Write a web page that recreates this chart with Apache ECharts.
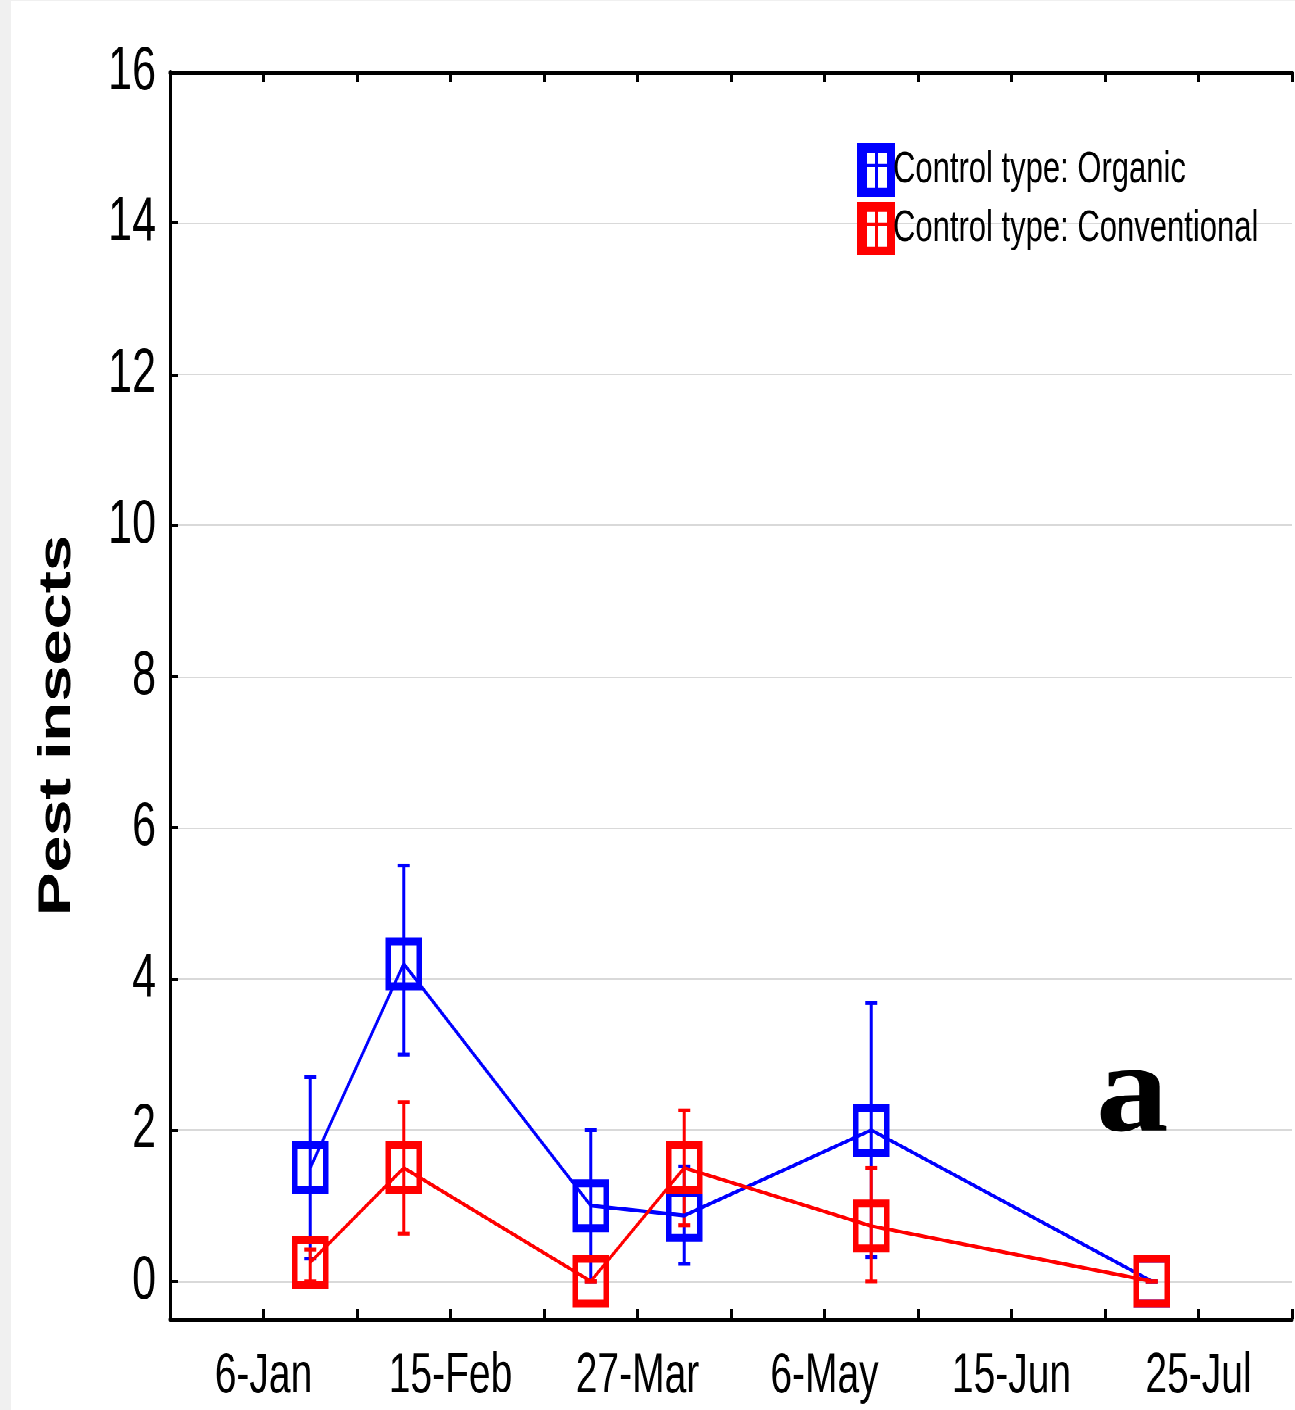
<!DOCTYPE html>
<html>
<head>
<meta charset="utf-8">
<script src="https://cdn.jsdelivr.net/npm/echarts@6/dist/echarts.min.js"></script>
<style>
  html, body { margin: 0; padding: 0; background: #f0f0f0; overflow: hidden; }
  /* the source figure is stretched vertically, so the chart is drawn
     at 1/1.45 height and scaled back up */
  #pest_chart {
    position: absolute;
    left: 11px;
    top: 1px;
    width: 1284px;
    height: 972px;
    background: #ffffff;
    transform: scaleY(1.45);
    transform-origin: 0 0;
  }
</style>
</head>
<body>
<div id="pest_chart"></div>
<script>
// sampling dates (non-leap year)
var sampleDates = ['2001-01-16', '2001-02-05', '2001-03-17', '2001-04-06', '2001-05-16', '2001-07-15'];
// x tick labels, every 40 days from 6-Jan
var tickLabels = ['6-Jan', '15-Feb', '27-Mar', '6-May', '15-Jun', '25-Jul'];
var yTicks = [0, 2, 4, 6, 8, 10, 12, 14, 16];

var organicMean = [1.5, 4.2, 1.0, 0.87, 2.0, 0];
var organicLow  = [0.3, 3.0, 0, 0.23, 0.32, 0];
var organicHigh = [2.7, 5.5, 2.0, 1.52, 3.68, 0];

var conventionalMean = [0.25, 1.5, 0, 1.5, 0.73, 0];
var conventionalLow  = [0, 0.63, 0, 0.74, 0, 0];
var conventionalHigh = [0.42, 2.37, 0, 2.26, 1.5, 0];

var BLUE = '#0000ff';
var RED = '#ff0000';
var SANS = '"Liberation Sans", Arial, sans-serif';
var legendIcon = 'path://M0,0H38V54H0Z M10,10V21H18V10Z M21,10V21H30V10Z M10,24V45H18V24Z M21,24V45H30V24Z';

// days after 6-Jan
function dayOffset(iso) {
  var p = iso.split('-');
  return Math.round((Date.UTC(+p[0], +p[1] - 1, +p[2]) - Date.UTC(2001, 0, 6)) / 86400000);
}
var days = sampleDates.map(dayOffset);

function pairs(vals) {
  return days.map(function (d, i) { return [d, vals[i]]; });
}
function bars(low, high) {
  return days.map(function (d, i) { return [d, low[i], high[i]]; });
}

function errorBar(color) {
  return function (params, api) {
    var x = api.value(0);
    var lo = api.coord([x, api.value(1)]);
    var hi = api.coord([x, api.value(2)]);
    var hw = 6;
    return {
      type: 'group',
      children: [
        { type: 'line', shape: { x1: lo[0], y1: lo[1], x2: hi[0], y2: hi[1] }, style: { stroke: color, lineWidth: 3 } },
        { type: 'line', shape: { x1: hi[0] - hw, y1: hi[1], x2: hi[0] + hw, y2: hi[1] }, style: { stroke: color, lineWidth: 2.6 } },
        { type: 'line', shape: { x1: lo[0] - hw, y1: lo[1], x2: lo[0] + hw, y2: lo[1] }, style: { stroke: color, lineWidth: 2.6 } }
      ]
    };
  };
}

function lineSeries(name, vals, color) {
  return {
    name: name,
    type: 'line',
    data: pairs(vals),
    symbol: 'rect',
    symbolSize: 31,
    showAllSymbol: true,
    lineStyle: { color: color, width: 2.6 },
    itemStyle: { color: 'rgba(0,0,0,0)', borderColor: color, borderWidth: 5.5 },
    z: 3
  };
}

var chart = echarts.init(document.getElementById('pest_chart'), null, { devicePixelRatio: 2 });
var xCommon = {
  type: 'value',
  min: -20,
  max: 220,
  interval: 20,
  splitLine: { show: false },
  axisLine: { onZero: false, lineStyle: { color: '#000', width: 3 } },
  axisTick: { inside: true, length: 7, lineStyle: { color: '#000', width: 3 } }
};

var option = {
  animation: false,
  grid: { left: 159, top: 49, right: 0, bottom: 63 },
  legend: {
    orient: 'vertical',
    left: 846,
    top: 98,
    padding: 0,
    itemGap: 3.5,
    itemWidth: 38,
    itemHeight: 37,
    icon: legendIcon,
    symbolKeepAspect: false,
    itemStyle: { borderWidth: 0 },
    textStyle: { fontFamily: SANS, fontSize: 31, color: '#000', padding: [0, 0, 0, -7] },
    data: [
      { name: 'Control type: Organic', itemStyle: { color: BLUE, borderWidth: 0 } },
      { name: 'Control type: Conventional', itemStyle: { color: RED, borderWidth: 0 } }
    ]
  },
  xAxis: [
    Object.assign({}, xCommon, {
      position: 'bottom',
      axisLabel: {
        margin: 20,
        fontFamily: SANS,
        fontSize: 39,
        color: '#000',
        formatter: function (v) {
          if (v >= 0 && v % 40 === 0 && v / 40 < tickLabels.length) return tickLabels[v / 40];
          return '';
        }
      }
    }),
    Object.assign({}, xCommon, {
      position: 'top',
      axisLabel: { show: false }
    })
  ],
  yAxis: {
    type: 'value',
    min: -0.5,
    max: 16,
    name: 'Pest insects',
    nameLocation: 'middle',
    nameRotate: 90,
    nameGap: 90,
    nameTextStyle: { fontFamily: SANS, fontWeight: 'bold', fontSize: 45, color: '#000', padding: [0, 41, 0, 0] },
    axisLine: { onZero: false, lineStyle: { color: '#000', width: 3 } },
    axisTick: { inside: true, length: 8, customValues: yTicks, lineStyle: { color: '#000', width: 2 } },
    axisLabel: { margin: 14, customValues: yTicks, fontFamily: SANS, fontSize: 43, color: '#000' },
    splitLine: { show: true, lineStyle: { color: '#d9d9d9', width: 1 } }
  },
  graphic: [{
    type: 'text',
    x: 1085,
    y: 756,
    scaleY: 0.61,
    style: {
      text: 'a',
      font: 'bold 145px "Liberation Serif", "Times New Roman", serif',
      fill: '#000',
      verticalAlign: 'middle'
    },
    z: 10
  }],
  series: [
    { name: 'Control type: Organic', type: 'custom', renderItem: errorBar(BLUE), data: bars(organicLow, organicHigh), z: 2 },
    lineSeries('Control type: Organic', organicMean, BLUE),
    { name: 'Control type: Conventional', type: 'custom', renderItem: errorBar(RED), data: bars(conventionalLow, conventionalHigh), z: 2 },
    lineSeries('Control type: Conventional', conventionalMean, RED)
  ]
};
option && chart.setOption(option);
</script>
</body>
</html>
